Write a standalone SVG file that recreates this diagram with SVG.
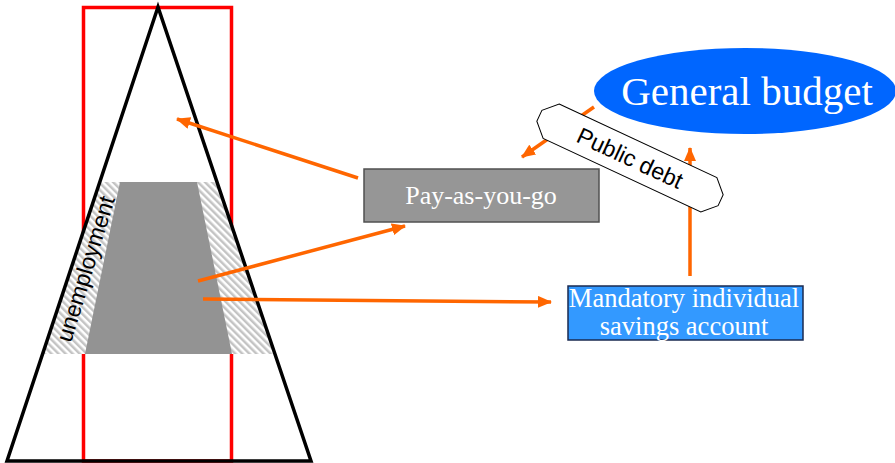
<svg xmlns="http://www.w3.org/2000/svg" width="895" height="463" viewBox="0 0 895 463">
<defs>
<pattern id="hatch" patternUnits="userSpaceOnUse" width="5" height="5" patternTransform="rotate(-45)">
<rect width="5" height="5" fill="#ffffff"/>
<rect width="2.5" height="5" fill="#c4c4c4"/>
</pattern>
<marker id="ah" markerUnits="userSpaceOnUse" markerWidth="14" markerHeight="12" refX="13" refY="6" orient="auto">
<path d="M0,0 L14,6 L0,12 Z" fill="#ff6600"/>
</marker>
<style>
.con{stroke:#ff6600;stroke-width:3.5;fill:none;marker-end:url(#ah)}
.serif{font-family:"Liberation Serif","Times New Roman",serif;fill:#ffffff;text-anchor:middle}
.sans{font-family:"Liberation Sans",Arial,sans-serif;fill:#000000;text-anchor:middle}
</style>
</defs>
<rect width="895" height="463" fill="#ffffff"/>
<g id="pyramid">
<rect x="83.5" y="7.5" width="148" height="453.5" fill="none" stroke="#ff0000" stroke-width="3.5"/>
<polygon points="100,182 217,182 275,354 43,354" fill="url(#hatch)"/>
<polygon points="120,182 197,182 232,354 85,354" fill="#939393"/>
<polygon points="158,7 7,461 311,461" fill="none" stroke="#000000" stroke-width="3.5" stroke-linejoin="miter"/>
<text class="sans" font-size="23" transform="translate(93,271) rotate(-73)">unemployment</text>
</g>
<g id="connectors">
<line class="con" x1="358" y1="178" x2="177" y2="119"/>
<line class="con" x1="198" y1="281" x2="405" y2="226"/>
<line class="con" x1="203" y1="299" x2="551" y2="302"/>
<line class="con" x1="690" y1="276" x2="690" y2="148"/>
<line class="con" x1="594" y1="107" x2="522" y2="157"/>
</g>
<g id="payg">
<rect x="364" y="169" width="235" height="53" fill="#969696" stroke="#505050" stroke-width="1.5"/>
<text class="serif" x="481" y="204" font-size="26">Pay-as-you-go</text>
</g>
<g id="mandatory">
<rect x="568" y="286" width="235" height="54" fill="#3399ff" stroke="#1a2a50" stroke-width="1.5"/>
<text class="serif" x="684" y="307" font-size="26.5">Mandatory individual</text>
<text class="serif" x="684" y="335" font-size="26.5">savings account</text>
</g>
<g id="budget">
<ellipse cx="745" cy="91" rx="151" ry="43" fill="#0066ff"/>
<text class="serif" x="747" y="105" font-size="41">General budget</text>
</g>
<g id="debt" transform="translate(630,158) rotate(25)">
<polygon points="-87,-19 87,-19 100,-6 100,6 87,19 -87,19 -100,6 -100,-6" fill="#ffffff" stroke="#000000" stroke-width="1"/>
<text class="sans" x="0" y="8" font-size="23">Public debt</text>
</g>
</svg>
